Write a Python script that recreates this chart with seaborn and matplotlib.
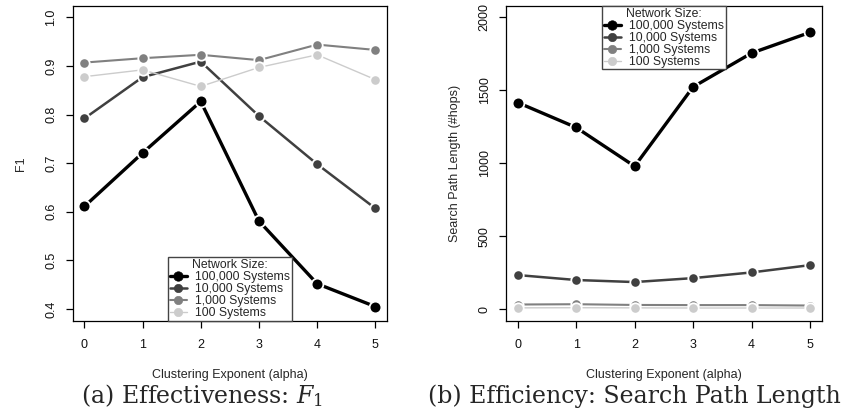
import numpy as np
import pandas as pd
import matplotlib
matplotlib.use("Agg")
import matplotlib.pyplot as plt
import seaborn as sns

# ---- data ----
alpha = [0, 1, 2, 3, 4, 5]
series_names = ["100,000 Systems", "10,000 Systems", "1,000 Systems", "100 Systems"]
f1_100k = [0.611, 0.721, 0.827, 0.581, 0.452, 0.405]
f1_10k = [0.792, 0.877, 0.909, 0.797, 0.698, 0.607]
f1_1k = [0.907, 0.916, 0.923, 0.912, 0.944, 0.933]
f1_100 = [0.878, 0.892, 0.858, 0.897, 0.923, 0.872]
hops_100k = [1416, 1245, 979, 1523, 1755, 1897]
hops_10k = [233, 199, 185, 212, 251, 301]
hops_1k = [31, 33, 28, 27, 27, 24]
hops_100 = [8, 9, 8, 7, 7, 7]
f1_ticks = [0.4, 0.5, 0.6, 0.7, 0.8, 0.9, 1.0]
hops_ticks = [0, 500, 1000, 1500, 2000]

colors = ["#000000", "#404040", "#808080", "#cccccc"]
lws = [2.4, 1.8, 1.5, 1.0]
mss = [8.5, 7.5, 7.5, 7.5]

sns.set_theme(style="ticks")
plt.rcParams["font.family"] = ["Liberation Sans", "DejaVu Sans"]
plt.rcParams["mathtext.fontset"] = "dejavuserif"

fig = plt.figure(figsize=(8.49, 4.11), dpi=100)
W, H = 849.0, 411.0
def axrect(l, r, t, b):
    return [l / W, 1 - b / H, (r - l) / W, (b - t) / H]

ax1 = fig.add_axes(axrect(72.7, 387.0, 5.7, 320.7))
ax2 = fig.add_axes(axrect(506.0, 821.7, 5.7, 320.7))

def draw(ax, ys, ylim, ticks, ylabel, leg_loc, leg_anchor):
    for name, y, c, lw, ms in zip(series_names, ys, colors, lws, mss):
        df = pd.DataFrame({"alpha": alpha, "v": y})
        sns.lineplot(data=df, x="alpha", y="v", ax=ax, color=c, lw=lw,
                     marker="o", ms=ms, mec="white", mew=1.3, label=name)
    lo, hi = ylim
    pad = 0.04 * (hi - lo)
    ax.set_ylim(lo - pad, hi + pad)
    ax.set_xlim(-0.2, 5.2)
    ax.set_xticks(alpha)
    ax.set_yticks(ticks)
    ax.set_yticklabels([str(t) for t in ticks], rotation=90, va="center")
    ax.tick_params(axis="both", length=5, width=0.9, color="black",
                   labelsize=9, labelcolor="#111111")
    ax.tick_params(axis="x", pad=8)
    ax.tick_params(axis="y", pad=6)
    for s in ax.spines.values():
        s.set_visible(True)
        s.set_color("black")
        s.set_linewidth(0.9)
    ax.set_xlabel("Clustering Exponent (alpha)", fontsize=9, labelpad=13)
    ax.set_ylabel(ylabel, fontsize=9, labelpad=13)
    leg = ax.legend(loc=leg_loc, bbox_to_anchor=leg_anchor, title="Network Size:",
                    fontsize=8.8, title_fontsize=8.8, frameon=True, fancybox=False,
                    borderaxespad=0, labelspacing=0.0, handlelength=1.4,
                    handletextpad=0.7, borderpad=0.15, markerscale=0.8,
                    handleheight=0.5)
    for h, c in zip(leg.legend_handles, colors):
        h.set_markeredgecolor(c)
        h.set_markeredgewidth(0.5)
    leg.get_frame().set_edgecolor("#444444")
    leg.get_frame().set_linewidth(1.0)
    leg.get_frame().set_alpha(1)

draw(ax1, [f1_100k, f1_10k, f1_1k, f1_100], (0.4, 1.0), f1_ticks, "F1",
     "lower center", (0.5, 0.0))
draw(ax2, [hops_100k, hops_10k, hops_1k, hops_100], (0, 2000), hops_ticks,
     "Search Path Length (#hops)", "upper center", (0.5, 1.0))

fig.text(201.5 / W, 1 - 396.0 / H, r"(a) Effectiveness: $F_1$", ha="center", va="center",
         fontsize=17, family="DejaVu Serif")
fig.text(634 / W, 1 - 396.0 / H, "(b) Efficiency: Search Path Length", ha="center", va="center",
         fontsize=17, family="DejaVu Serif")

fig.savefig("out.png", dpi=100)
